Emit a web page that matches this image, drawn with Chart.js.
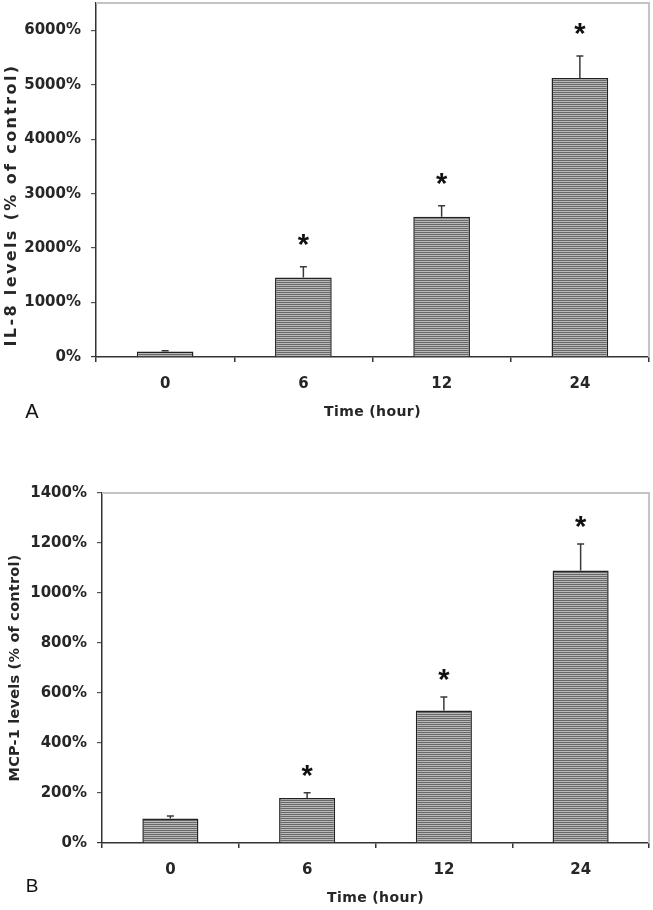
<!DOCTYPE html>
<html><head><meta charset="utf-8">
<script src="https://cdn.jsdelivr.net/npm/chart.js@4.4.0/dist/chart.umd.min.js"></script>
<style>
html,body{margin:0;padding:0;background:#fff;}
#wrap{position:relative;width:653px;height:910px;}
canvas{position:absolute;left:0;}
</style>
</head><body>
<div id="wrap">
<canvas id="c1" width="653" height="430" style="top:0px"></canvas>
<canvas id="c2" width="653" height="480" style="top:430px"></canvas>
</div>
<script>
const categories = ['0', '6', '12', '24'];

const il8Values = [100, 1460, 2575, 5125];
const il8Errors = [15, 195, 200, 400];
const il8Significant = [false, true, true, true];
const il8Ticks = [0, 1000, 2000, 3000, 4000, 5000, 6000];

const mcp1Values = [98, 180, 530, 1090];
const mcp1Errors = [10, 21, 54, 106];
const mcp1Significant = [false, true, true, true];
const mcp1Ticks = [0, 200, 400, 600, 800, 1000, 1200, 1400];

const xTitle = 'Time (hour)';
const il8Title = 'IL-8 levels (% of control)';
const mcp1Title = 'MCP-1 levels (% of control)';

function stripePattern(ctx) {
  const p = document.createElement('canvas');
  p.width = 4; p.height = 2;
  const g = p.getContext('2d');
  g.fillStyle = '#b9b9b9'; g.fillRect(0, 0, 4, 2);
  g.fillStyle = '#686868'; g.fillRect(0, 0, 4, 1);
  return ctx.createPattern(p, 'repeat');
}

function fitText(ctx, text, cx, cy, rotate, font, length) {
  ctx.save();
  ctx.translate(cx, cy);
  if (rotate) ctx.rotate(-Math.PI / 2);
  ctx.font = font;
  ctx.letterSpacing = '0px';
  const w = ctx.measureText(text).width;
  const ls = Math.max(0, (length - w) / (text.length));
  ctx.letterSpacing = ls.toFixed(2) + 'px';
  ctx.fillStyle = '#262626';
  ctx.textAlign = 'left';
  ctx.textBaseline = 'middle';
  ctx.fillText(text, -length / 2, 0);
  ctx.restore();
}

const decor = {
  id: 'decor',
  afterDatasetsDraw(chart, args, o) {
    const ctx = chart.ctx, a = chart.chartArea, xs = chart.scales.x, ys = chart.scales.y;
    ctx.save();
    ctx.strokeStyle = '#c4c4c4';
    ctx.lineWidth = 2;
    ctx.beginPath();
    ctx.moveTo(a.left, a.top);
    ctx.lineTo(a.right, a.top);
    ctx.lineTo(a.right, a.bottom);
    ctx.stroke();
    ctx.strokeStyle = '#3a3a3a';
    ctx.lineWidth = 1.5;
    o.values.forEach((v, i) => {
      const cx = xs.getPixelForValue(i);
      const y0 = ys.getPixelForValue(v);
      const y1 = ys.getPixelForValue(v + o.errors[i]);
      ctx.beginPath();
      ctx.moveTo(cx, y0); ctx.lineTo(cx, y1);
      ctx.moveTo(cx - 3.5, y1); ctx.lineTo(cx + 3.5, y1);
      ctx.stroke();
      if (o.sig[i]) {
        ctx.font = 'bold 29px "Liberation Sans"';
        ctx.fillStyle = '#111';
        ctx.textAlign = 'center';
        ctx.textBaseline = 'alphabetic';
        const m = ctx.measureText('*');
        const cy = y1 - o.starGap;
        ctx.fillText('*', cx, cy + (m.actualBoundingBoxAscent - m.actualBoundingBoxDescent) / 2);
      }
    });
    ctx.restore();
  },
  afterDraw(chart, args, o) {
    const ctx = chart.ctx, a = chart.chartArea;
    fitText(ctx, o.yTitle, o.yTitleX, o.yTitleY, true, 'bold ' + o.yTitleSize + 'px "DejaVu Sans"', o.yTitleLen);
    fitText(ctx, xTitle, (a.left + a.right) / 2, a.bottom + 55, false, 'bold 14px "DejaVu Sans"', 97);
    ctx.save();
    ctx.font = o.letterSize + 'px "Liberation Sans"';
    ctx.fillStyle = '#111';
    ctx.textAlign = 'center';
    ctx.textBaseline = 'middle';
    ctx.fillText(o.letter, o.letterX, o.letterY);
    ctx.restore();
  }
};

function makeChart(id, values, errors, sig, ticks, ymax, yWidth, xHeight, padTop, opts) {
  const canvas = document.getElementById(id);
  const ctx = canvas.getContext('2d');
  const tickFont = { family: 'DejaVu Sans', weight: 'bold', size: 15 };
  return new Chart(ctx, {
    type: 'bar',
    data: {
      labels: categories,
      datasets: [{
        data: values,
        backgroundColor: stripePattern(ctx),
        borderColor: '#222',
        borderWidth: 1.5,
        barPercentage: 0.41,
        categoryPercentage: 1.0
      }]
    },
    options: {
      responsive: false,
      animation: false,
      devicePixelRatio: 1,
      layout: { padding: { top: padTop, right: 4, left: 0, bottom: 0 } },
      plugins: {
        legend: { display: false },
        tooltip: { enabled: false },
        decor: Object.assign({ values: values, errors: errors, sig: sig }, opts)
      },
      scales: {
        x: {
          offset: true,
          afterFit: s => { s.height = xHeight; s.paddingLeft = 0; s.paddingRight = 0; },
          border: { color: '#333', width: 1.5 },
          grid: { offset: true, drawOnChartArea: false, tickLength: 5, color: '#333', lineWidth: 1.5 },
          ticks: { padding: 13, color: '#262626', font: tickFont }
        },
        y: {
          min: 0,
          max: ymax,
          afterBuildTicks: s => { s.ticks = ticks.map(v => ({ value: v })); },
          afterFit: s => { s.width = yWidth; s.paddingTop = 0; s.paddingBottom = 0; },
          border: { color: '#333', width: 1.5 },
          grid: {
            drawOnChartArea: false, tickLength: 5, lineWidth: 1.2,
            color: c => (c.tick && c.tick.value === 0) ? '#333' : '#555'
          },
          ticks: { padding: 10, color: '#262626', font: tickFont, callback: v => v + '%' }
        }
      }
    },
    plugins: [decor]
  });
}

makeChart('c1', il8Values, il8Errors, il8Significant, il8Ticks, 6500, 96, 73, 3, {
  starGap: 27, yTitle: il8Title, yTitleX: 12, yTitleY: 205, yTitleSize: 16, yTitleLen: 283,
  letter: 'A', letterX: 32, letterY: 412, letterSize: 20
});
makeChart('c2', mcp1Values, mcp1Errors, mcp1Significant, mcp1Ticks, 1400, 102, 67, 63, {
  starGap: 22, yTitle: mcp1Title, yTitleX: 15, yTitleY: 238, yTitleSize: 14.5, yTitleLen: 227,
  letter: 'B', letterX: 32, letterY: 457, letterSize: 19
});
</script>
</body></html>
